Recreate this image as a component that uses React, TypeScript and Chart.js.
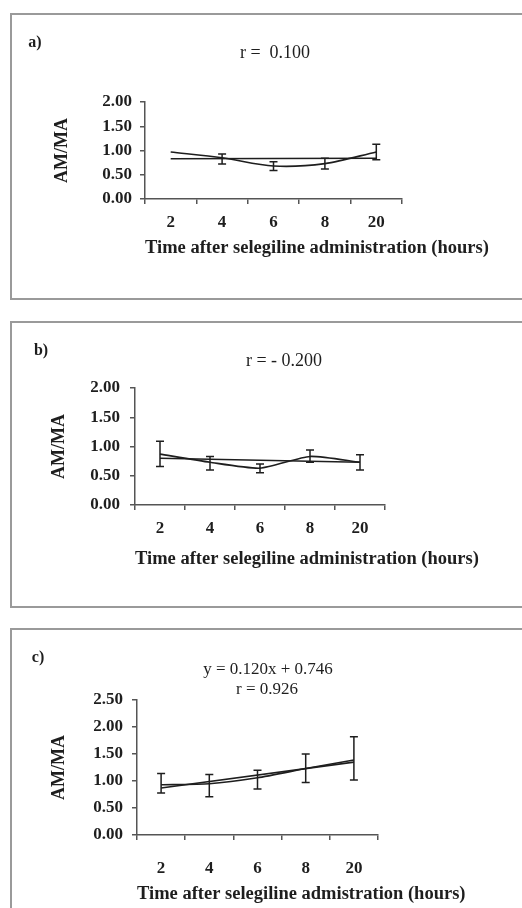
import React, { useEffect, useRef } from 'react';
import { Chart, registerables } from 'chart.js';

Chart.register(...registerables);

// ---------- data ----------
const categories = ['2', '4', '6', '8', '20'];

const meanA = [0.97, 0.85, 0.68, 0.73, 0.97];
const lowA = [null, 0.72, 0.59, 0.62, 0.81];
const highA = [null, 0.93, 0.77, 0.84, 1.13];
const trendA = [0.83, null, null, null, 0.84];

const meanB = [0.87, 0.73, 0.63, 0.83, 0.73];
const lowB = [0.66, 0.6, 0.55, 0.73, 0.6];
const highB = [1.09, 0.83, 0.7, 0.94, 0.86];
const trendB = [0.8, null, null, null, 0.73];

const meanC = [0.93, 0.95, 1.06, 1.23, 1.39];
const lowC = [0.78, 0.71, 0.85, 0.97, 1.02];
const highC = [1.14, 1.12, 1.2, 1.5, 1.82];
const trendC = [0.87, null, null, null, 1.35];

const yMaxA = 2;
const yMaxB = 2;
const yMaxC = 2.5;
const yStep = 0.5;

const xTitleAB = 'Time after selegiline administration (hours)';
const xTitleC = 'Time after selegiline admistration (hours)';
const yTitle = 'AM/MA';

const SERIF = '"Liberation Serif", "Times New Roman", serif';
const INK = '#1e1e1e';
const AXIS = '#555';
const XTITLE_SIZE = 18.5;

type Layout = {
  left: number; top: number; w: number; h: number;
  yWidth: number; xHeight: number; padTop: number; padRight: number;
  yTickPad: number; yTitlePad: number; xTickPad: number; xTitlePad: number;
};

function makeErrorPlugin(low: (number | null)[], high: (number | null)[]) {
  return {
    id: 'errorBars',
    afterDatasetsDraw(chart: any) {
      const xs = chart.scales.x;
      const ys = chart.scales.y;
      const ctx = chart.ctx;
      ctx.save();
      ctx.strokeStyle = INK;
      ctx.lineWidth = 1.5;
      low.forEach((lo, i) => {
        const hi = high[i];
        if (lo == null || hi == null) return;
        const x = xs.getPixelForValue(i);
        const y1 = ys.getPixelForValue(lo);
        const y2 = ys.getPixelForValue(hi);
        ctx.beginPath();
        ctx.moveTo(x, y1); ctx.lineTo(x, y2);
        ctx.moveTo(x - 4, y1); ctx.lineTo(x + 4, y1);
        ctx.moveTo(x - 4, y2); ctx.lineTo(x + 4, y2);
        ctx.stroke();
      });
      ctx.restore();
    },
  };
}

// x-axis title drawn from the scale's left edge without width squeezing
function makeXTitlePlugin(text: string, padBottom: number) {
  return {
    id: 'freeXTitle',
    afterDraw(chart: any) {
      const xs = chart.scales.x;
      const ctx = chart.ctx;
      const lh = XTITLE_SIZE * 1.2;
      ctx.save();
      ctx.font = `bold ${XTITLE_SIZE}px ${SERIF}`;
      ctx.fillStyle = INK;
      ctx.textAlign = 'left';
      ctx.textBaseline = 'middle';
      ctx.fillText(text, xs.left, xs.bottom - padBottom - lh / 2);
      ctx.restore();
    },
  };
}

function PanelChart(props: {
  mean: number[]; low: (number | null)[]; high: (number | null)[]; trend: (number | null)[];
  yMax: number; xTitle: string; L: Layout; tension: number;
}) {
  const ref = useRef<HTMLCanvasElement>(null);
  const { mean, low, high, trend, yMax, xTitle, L, tension } = props;
  useEffect(() => {
    const chart = new Chart(ref.current as HTMLCanvasElement, {
      type: 'line',
      data: {
        labels: categories,
        datasets: [
          {
            data: mean, borderColor: INK, borderWidth: 1.6, pointRadius: 0,
            tension, fill: false,
          },
          {
            data: trend, borderColor: INK, borderWidth: 1.6, pointRadius: 0,
            spanGaps: true, tension: 0, fill: false,
          },
        ],
      },
      options: {
        responsive: false,
        animation: false,
        layout: { padding: { top: L.padTop, right: L.padRight, left: 0, bottom: 0 } },
        plugins: { legend: { display: false }, tooltip: { enabled: false }, title: { display: false } },
        scales: {
          x: {
            type: 'category',
            offset: true,
            afterFit: (s: any) => { s.height = L.xHeight; },
            grid: { display: true, offset: true, drawOnChartArea: false, drawTicks: true, tickLength: 5, color: AXIS, lineWidth: 1.5 },
            border: { display: true, color: AXIS, width: 1.5 },
            ticks: { color: INK, padding: L.xTickPad, font: { family: SERIF, size: 17, weight: 'bold' }, maxRotation: 0 },
            title: { display: false },
          },
          y: {
            min: 0, max: yMax,
            afterFit: (s: any) => { s.width = L.yWidth; },
            grid: { display: true, drawOnChartArea: false, drawTicks: true, tickLength: 5, color: AXIS, lineWidth: 1.5 },
            border: { display: true, color: AXIS, width: 1.5 },
            ticks: {
              stepSize: yStep, color: INK, padding: L.yTickPad,
              font: { family: SERIF, size: 17, weight: 'bold' },
              callback: (v: any) => Number(v).toFixed(2),
            },
            title: {
              display: true, text: yTitle, color: INK,
              font: { family: SERIF, size: 18, weight: 'bold' },
              padding: { top: L.yTitlePad, bottom: 0 },
            },
          },
        },
      },
      plugins: [makeErrorPlugin(low, high), makeXTitlePlugin(xTitle, L.xTitlePad)],
    } as any);
    return () => chart.destroy();
  }, []);
  return (
    <canvas
      ref={ref}
      width={L.w}
      height={L.h}
      style={{ position: 'absolute', left: L.left, top: L.top, width: L.w, height: L.h }}
    />
  );
}

const boxStyle = (top: number, height: number): React.CSSProperties => ({
  position: 'absolute', left: 10, top, width: 530, height, boxSizing: 'border-box',
  border: '2px solid #9a9a9a', background: '#fff',
});

const textStyle = (x: number, y: number, size: number, bold: boolean): React.CSSProperties => ({
  position: 'absolute', left: x, top: y, transform: 'translate(-50%, -50%)',
  fontFamily: SERIF, fontSize: size, fontWeight: bold ? 'bold' : 'normal', color: INK,
  whiteSpace: 'pre', lineHeight: 1.2, textAlign: 'center',
});

const LA: Layout = { left: 12, top: 15, w: 510, h: 282, yWidth: 133, xHeight: 98, padTop: 87, padRight: 120, yTickPad: 8, yTitlePad: 40, xTickPad: 8, xTitlePad: 38 };
const LB: Layout = { left: 12, top: 323, w: 510, h: 283, yWidth: 123, xHeight: 101, padTop: 65, padRight: 137, yTickPad: 10, yTitlePad: 37, xTickPad: 8, xTitlePad: 35.5 };
const LC: Layout = { left: 12, top: 630, w: 510, h: 278, yWidth: 125, xHeight: 73, padTop: 70, padRight: 144, yTickPad: 9, yTitlePad: 37, xTickPad: 18, xTitlePad: 2.5 };

export default function App() {
  return (
    <div style={{ position: 'absolute', left: 0, top: 0, width: 522, height: 908, overflow: 'hidden', background: '#fff' }}>
      <div style={boxStyle(13, 287)} />
      <div style={boxStyle(321, 287)} />
      <div style={boxStyle(628, 300)} />

      <PanelChart mean={meanA} low={lowA} high={highA} trend={trendA} yMax={yMaxA} xTitle={xTitleAB} L={LA} tension={0.3} />
      <PanelChart mean={meanB} low={lowB} high={highB} trend={trendB} yMax={yMaxB} xTitle={xTitleAB} L={LB} tension={0.2} />
      <PanelChart mean={meanC} low={lowC} high={highC} trend={trendC} yMax={yMaxC} xTitle={xTitleC} L={LC} tension={0.2} />

      <div style={textStyle(35, 42, 16, true)}>a)</div>
      <div style={textStyle(275, 53, 18, false)}>{'r =  0.100'}</div>

      <div style={textStyle(41, 350, 16, true)}>b)</div>
      <div style={textStyle(284, 361, 18, false)}>{'r = - 0.200'}</div>

      <div style={textStyle(38, 657, 16, true)}>c)</div>
      <div style={textStyle(268, 669, 17, false)}>{'y = 0.120x + 0.746'}</div>
      <div style={textStyle(267, 689, 17, false)}>{'r = 0.926'}</div>
    </div>
  );
}
